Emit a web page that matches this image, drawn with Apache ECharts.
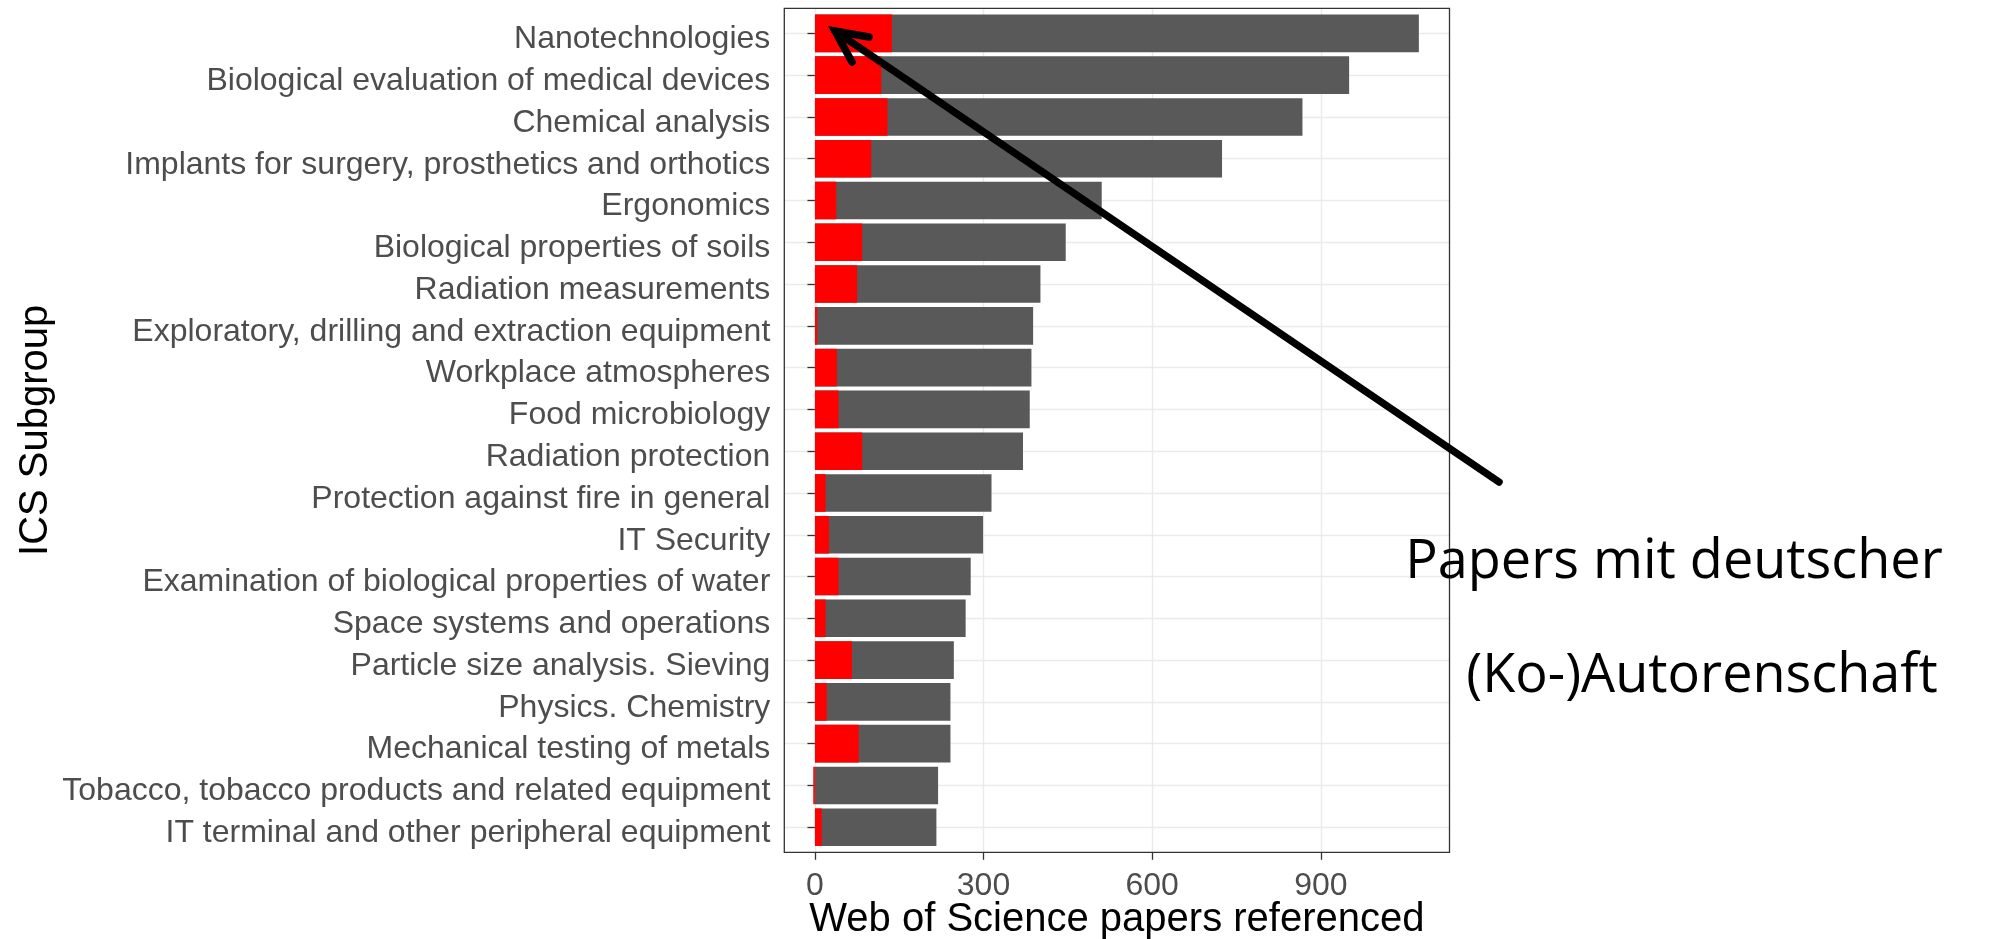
<!DOCTYPE html>
<html>
<head>
<meta charset="utf-8">
<script src="https://cdn.jsdelivr.net/npm/echarts@6/dist/echarts.min.js"></script>
<style>
  html, body { margin: 0; padding: 0; background: #fff; }
  #chart { width: 1993px; height: 939px; }
</style>
</head>
<body>
<div id="chart"></div>
<script>
var categories = [
  'Nanotechnologies',
  'Biological evaluation of medical devices',
  'Chemical analysis',
  'Implants for surgery, prosthetics and orthotics',
  'Ergonomics',
  'Biological properties of soils',
  'Radiation measurements',
  'Exploratory, drilling and extraction equipment',
  'Workplace atmospheres',
  'Food microbiology',
  'Radiation protection',
  'Protection against fire in general',
  'IT Security',
  'Examination of biological properties of water',
  'Space systems and operations',
  'Particle size analysis. Sieving',
  'Physics. Chemistry',
  'Mechanical testing of metals',
  'Tobacco, tobacco products and related equipment',
  'IT terminal and other peripheral equipment'
];
// all papers per subgroup (grey)
var totalPapers = [1074, 950, 867, 724, 510, 446, 401, 388, 385, 382, 370, 314, 299, 277, 268, 247, 241, 241, 219, 216];
// papers with German (co-)authorship (red)
var germanPapers = [137, 118, 129, 100, 38, 84, 75, 4, 39, 42, 84, 19, 25, 42, 19, 66, 21, 78, -3, 12];
var xTickLabels = [0, 300, 600, 900];

var chart = echarts.init(document.getElementById('chart'));

// panel in pixels
var panel = { left: 784.3, top: 8.3, width: 665.2, height: 844 };
var W = 1993, H = 939;
var band = 41.8; // one category step

var gridCol = '#EBEBEB';
var axisCol = '#333333';
var textCol = '#4D4D4D';
var font = 'Liberation Sans, Arial, sans-serif';

chart.setOption({
  backgroundColor: '#fff',
  animation: false,
  grid: [{
    // bars: first/last category centres
    left: panel.left,
    right: W - panel.left - panel.width,
    top: panel.top + 0.6 * band,
    bottom: H - (panel.top + panel.height - 0.6 * band),
    outerBoundsMode: 'none'
  }, {
    // vertical grid lines 0..1050
    left: 814.8,
    right: W - (814.8 + 1050 * 0.5623),
    top: panel.top,
    bottom: H - panel.top - panel.height,
    outerBoundsMode: 'none'
  }],
  xAxis: [{
    type: 'value',
    gridIndex: 0,
    min: -54.5,
    max: 1128.5,
    axisLine: { show: false },
    axisTick: { show: false },
    axisLabel: { show: false },
    splitLine: { show: false },
    name: 'Web of Science papers referenced',
    nameLocation: 'middle',
    nameGap: 73,
    nameTextStyle: { fontFamily: font, fontSize: 40, color: '#000' }
  }, {
    type: 'value',
    gridIndex: 1,
    min: 0,
    max: 1050,
    interval: 150,
    axisLine: { show: false },
    axisTick: {
      show: true,
      length: 7.5,
      customValues: xTickLabels,
      lineStyle: { color: axisCol, width: 1.3 }
    },
    axisLabel: {
      customValues: xTickLabels,
      fontFamily: font,
      fontSize: 32,
      color: textCol,
      margin: 18
    },
    splitLine: { show: true, lineStyle: { color: gridCol, width: 1.4 } }
  }],
  yAxis: [{
    type: 'category',
    gridIndex: 0,
    data: categories,
    inverse: true,
    boundaryGap: false,
    axisLine: { show: false },
    axisTick: { show: true, length: 7.5, lineStyle: { color: axisCol, width: 1.3 } },
    axisLabel: {
      fontFamily: font, fontSize: 32, color: textCol, margin: 14,
      verticalAlign: 'top', lineHeight: 12
    },
    splitLine: { show: true, lineStyle: { color: gridCol, width: 1.4 } },
    name: 'ICS Subgroup',
    nameLocation: 'middle',
    nameGap: 728,
    nameTextStyle: { fontFamily: font, fontSize: 40, color: '#000' }
  }, {
    type: 'value',
    gridIndex: 1,
    show: false
  }],
  series: [{
    type: 'bar',
    name: 'all papers',
    xAxisIndex: 0,
    yAxisIndex: 0,
    data: totalPapers,
    barWidth: '90%',
    clip: false,
    silent: true,
    itemStyle: { color: '#595959' }
  }, {
    type: 'bar',
    name: 'German (co-)authorship',
    xAxisIndex: 0,
    yAxisIndex: 0,
    data: germanPapers,
    barWidth: '90%',
    barGap: '-100%',
    clip: false,
    silent: true,
    itemStyle: { color: '#FF0000' }
  }],
  graphic: [{
    type: 'rect',
    z: 100,
    shape: { x: panel.left, y: panel.top, width: panel.width, height: panel.height },
    style: { fill: 'none', stroke: axisCol, lineWidth: 1.3 }
  }, {
    type: 'polyline',
    z: 110,
    shape: { points: [[1499, 482], [835, 31]] },
    style: { stroke: '#000', lineWidth: 7.5, lineCap: 'round', fill: 'none' }
  }, {
    type: 'polyline',
    z: 110,
    shape: { points: [[869, 37], [835, 31], [852, 62]] },
    style: { stroke: '#000', lineWidth: 7.5, lineCap: 'round', lineJoin: 'miter', fill: 'none' }
  }, {
    type: 'text',
    z: 110,
    style: {
      text: 'Papers mit deutscher',
      x: 1674, y: 563,
      align: 'center', verticalAlign: 'middle',
      fontFamily: 'Open Sans', fontSize: 54, fill: '#000'
    }
  }, {
    type: 'text',
    z: 110,
    style: {
      text: '(Ko-)Autorenschaft',
      x: 1702, y: 677,
      align: 'center', verticalAlign: 'middle',
      fontFamily: 'Open Sans', fontSize: 54, fill: '#000'
    }
  }]
});
</script>
</body>
</html>
